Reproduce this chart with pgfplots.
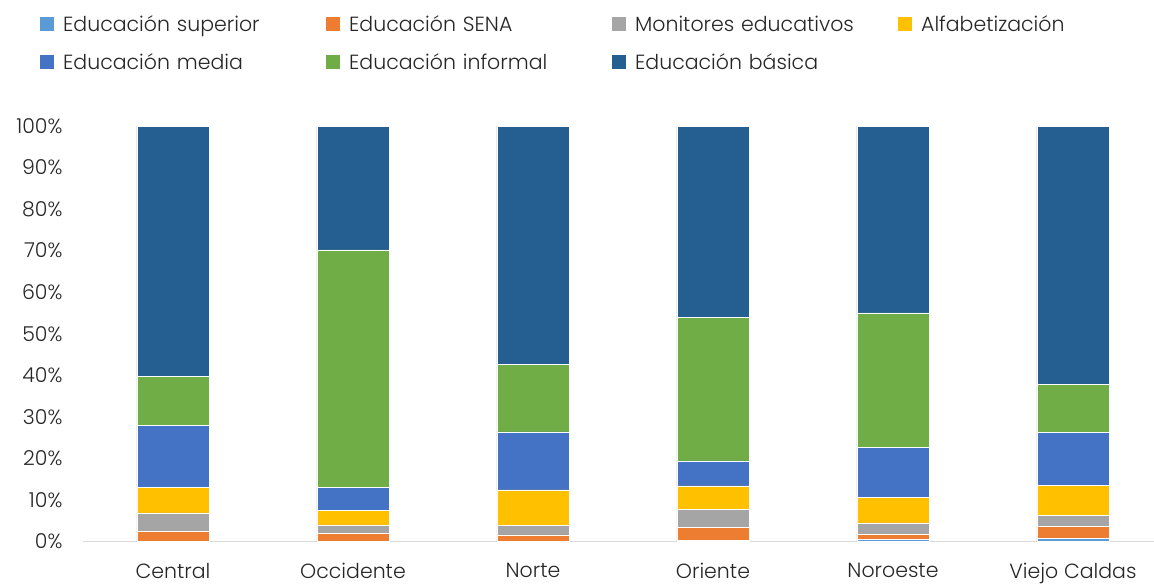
\documentclass[border=0pt]{standalone}
\usepackage{fontspec}
\setmainfont{Poppins}[UprightFont=* Light]
\usepackage{pgfplots}
\pgfplotsset{compat=1.18}
\definecolor{csup}{HTML}{5B9BD5}
\definecolor{csena}{HTML}{ED7D31}
\definecolor{cmon}{HTML}{A5A5A5}
\definecolor{calf}{HTML}{FFC000}
\definecolor{cmed}{HTML}{4472C4}
\definecolor{cinf}{HTML}{70AD47}
\definecolor{cbas}{HTML}{255E91}
\begin{document}
\begin{tikzpicture}
\useasboundingbox (0pt,0pt) rectangle (1154pt,-586pt);
\begin{axis}[
  at={(83pt,-541.5pt)}, anchor=south west,
  scale only axis, width=1071pt, height=415.5pt,
  xmin=-0.5, xmax=5.45, ymin=0, ymax=100,
  ybar stacked, bar width=72pt,
  axis y line=none, axis x line*=bottom,
  x axis line style={draw=black!15, line width=1.2pt},
  xtick={0,1,2,3,4,5},
  xticklabels={Central,Occidente,Norte,Oriente,Noroeste,Viejo Caldas},
  major tick length=0pt,
  xticklabel style={font=\fontsize{20.5}{24}\selectfont, text=black!85, yshift=-18pt},
  /pgf/number format/assume math mode=true,
  clip=false,
  legend columns=4,
  legend style={draw=none, at={(-0.043,1.274)}, anchor=north west,
    font=\fontsize{20.5}{24}\selectfont, text=black!85,
    /tikz/every odd column/.append style={column sep=8pt},
    /tikz/every even column/.append style={column sep=2pt},
    nodes={text width=260pt, align=left, inner sep=1pt},
    row sep=19pt},
  legend image code/.code={\fill[#1,draw=none] (0pt,-7pt) rectangle (14pt,7pt);},
  every axis plot/.append style={draw=white, line width=0.6pt},
]
\addplot[fill=csup] coordinates {(0,0.1) (1,0.1) (2,0.1) (3,0.2) (4,0.5) (5,0.8)};
\addplot[fill=csena] coordinates {(0,2.4) (1,1.9) (2,1.5) (3,3.1) (4,1.2) (5,2.9)};
\addplot[fill=cmon] coordinates {(0,4.4) (1,2.0) (2,2.2) (3,4.4) (4,2.8) (5,2.5)};
\addplot[fill=calf] coordinates {(0,6.1) (1,3.4) (2,8.6) (3,5.7) (4,6.2) (5,7.3)};
\addplot[fill=cmed] coordinates {(0,14.9) (1,5.6) (2,14.0) (3,6.0) (4,11.9) (5,12.8)};
\addplot[fill=cinf] coordinates {(0,11.9) (1,57.2) (2,16.3) (3,34.6) (4,32.4) (5,11.6)};
\addplot[fill=cbas] coordinates {(0,60.2) (1,29.8) (2,57.3) (3,46.0) (4,45.0) (5,62.1)};
\legend{Educación superior,Educación SENA,Monitores educativos,Alfabetización,Educación media,Educación informal,Educación básica}
\pgfplotsinvokeforeach{0,10,...,100}{
  \node[anchor=east, font=\fontsize{20.5}{24}\selectfont, text=black!85] at (axis cs:-0.5,#1) [xshift=-17pt] {#1\%};
}
\end{axis}
\end{tikzpicture}
\end{document}
